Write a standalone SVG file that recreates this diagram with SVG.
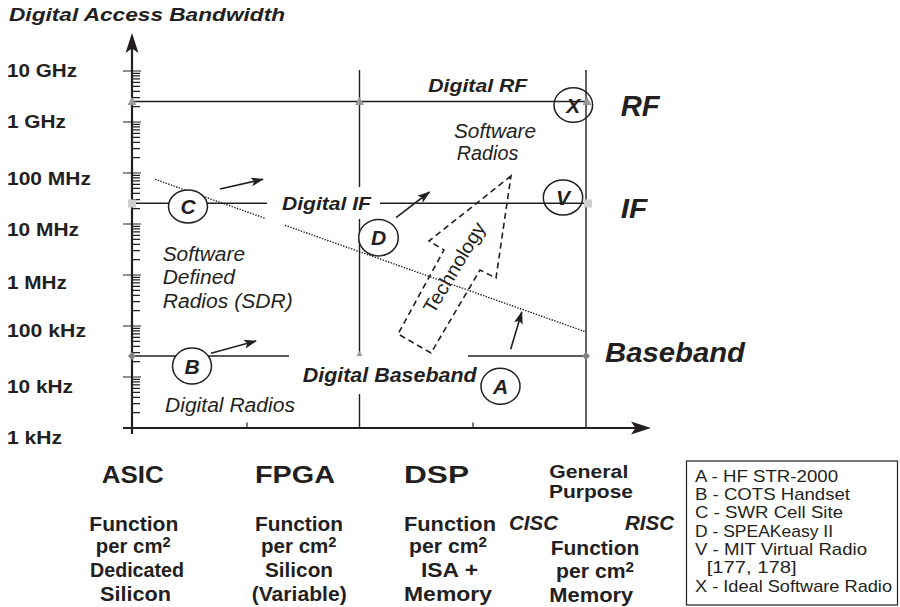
<svg xmlns="http://www.w3.org/2000/svg" width="900" height="607" viewBox="0 0 900 607">
<defs>
<style>
text{font-family:"Liberation Sans",Arial,Helvetica,sans-serif;fill:#231f20}
.b{font-weight:bold}
.bi{font-weight:bold;font-style:italic}
.i{font-style:italic}
.r{font-weight:normal}
.sup{font-size:14px}
.ln{stroke:#231f20;stroke-width:1.4;fill:none}
.ax{stroke:#231f20;stroke-width:2.2;fill:none}
.tk{stroke:#231f20;stroke-width:1.2;fill:none}
.dot{stroke:#231f20;stroke-width:1.4;stroke-dasharray:1.4 1.4;fill:none}
.dash{stroke:#231f20;stroke-width:1.6;stroke-dasharray:6 4;fill:none}
.circ{stroke:#231f20;stroke-width:1.5;fill:#fff}
.circn{stroke:#231f20;stroke-width:1.5;fill:none}
.arr{stroke:#231f20;stroke-width:1.6;fill:none;marker-end:url(#ah)}
.ltr{font-weight:bold;font-style:italic;font-size:21px;text-anchor:middle}
.g1{fill:#9a9a9a}
.g2{fill:#cfcfcf}
.g3{fill:#808080}
</style>
<marker id="ah" markerUnits="userSpaceOnUse" markerWidth="14" markerHeight="10" refX="12" refY="4.5" orient="auto">
<path d="M0,0 L13,4.5 L0,9 L3,4.5 z" fill="#231f20"/>
</marker>
</defs>
<rect width="900" height="607" fill="#fff"/>

<!-- axes -->
<g id="axes">
<line class="ax" x1="132" y1="434" x2="132" y2="46"/>
<path d="M132,33 L138.5,53 L132,48.5 L125.5,53 z" fill="#231f20"/>
<line class="ax" x1="123" y1="428" x2="638" y2="428"/>
<path d="M651,428 L631,434.5 L635.5,428 L631,421.5 z" fill="#231f20"/>
<path class="tk" stroke-width="1.6" d="M123,71H141M123,122H141M123,173H141M123,224H141M123,275H141M123,326H141M123,377H141"/>
<path class="tk" d="M132,412.6H140M132,403.7H140M132,397.3H140M132,392.3H140M132,388.3H140M132,384.9H140M132,381.9H140M132,379.3H140
M132,361.6H140M132,352.7H140M132,346.3H140M132,341.3H140M132,337.3H140M132,333.9H140M132,330.9H140M132,328.3H140
M132,310.6H140M132,301.7H140M132,295.3H140M132,290.3H140M132,286.3H140M132,282.9H140M132,279.9H140M132,277.3H140
M132,259.6H140M132,250.7H140M132,244.3H140M132,239.3H140M132,235.3H140M132,231.9H140M132,228.9H140M132,226.3H140
M132,208.6H140M132,199.7H140M132,193.3H140M132,188.3H140M132,184.3H140M132,180.9H140M132,177.9H140M132,175.3H140
M132,157.6H140M132,148.7H140M132,142.3H140M132,137.3H140M132,133.3H140M132,129.9H140M132,126.9H140M132,124.3H140
M132,106.6H140M132,97.7H140M132,91.3H140M132,86.3H140M132,82.3H140M132,78.9H140M132,75.9H140M132,73.3H140"/>
<path class="tk" stroke-width="1.4" d="M247,428V422.5M473,428V422.5"/>
</g>

<!-- connectors -->
<g id="connectors">
<line class="ln" x1="132" y1="101.5" x2="587" y2="101.5"/>
<line class="ln" x1="132" y1="203.3" x2="267" y2="203.3"/>
<line class="ln" x1="380" y1="203.3" x2="588" y2="203.3"/>
<line class="ln" x1="132" y1="356" x2="289" y2="356"/>
<line class="ln" x1="468" y1="356" x2="586" y2="356"/>
<line class="ln" x1="359.5" y1="70" x2="359.5" y2="187"/>
<line class="ln" x1="359.5" y1="219" x2="359.5" y2="354"/>
<line class="ln" x1="359.5" y1="394" x2="359.5" y2="428"/>
<line class="ln" x1="586" y1="70" x2="586" y2="428"/>
<line class="dot" x1="155" y1="179.3" x2="266" y2="218.6"/>
<line class="dot" x1="285" y1="225.3" x2="585" y2="331.6"/>
<path class="dash" d="M511,176 L429,241 L444,250 L398,334 L431,353 L480,270 L496,278 Z"/>
<line class="arr" x1="220" y1="189" x2="263" y2="179.3"/>
<line class="arr" x1="211" y1="353.3" x2="256" y2="341"/>
<line class="arr" x1="396" y1="217.7" x2="429.5" y2="192"/>
<line class="arr" x1="510.7" y1="349.3" x2="521.8" y2="312"/>
<path class="g1" d="M127.5,105 L136.5,105 L132,97 z"/>
<path class="g1" d="M355,105 L364,105 L359.5,97 z"/>
<path class="g1" d="M582.5,105 L591.5,105 L587,97 z"/>
<rect class="g2" x="128" y="199.5" width="8" height="8"/>
<rect class="g2" x="584" y="199.5" width="8" height="8"/>
<path class="g3" d="M132,352 L136,356 L132,360 L128,356 z"/>
<path class="g3" d="M586,352 L590,356 L586,360 L582,356 z"/>
<path class="g1" d="M356.5,356 L362.5,356 L359.5,351 z"/>
</g>

<!-- nodes -->
<g id="node-C"><ellipse class="circ" cx="188" cy="206.5" rx="19.5" ry="16.5"/><text class="ltr" x="188" y="214">C</text></g>
<g id="node-B"><ellipse class="circ" cx="192" cy="366" rx="19.5" ry="18"/><text class="ltr" x="192" y="373.5">B</text></g>
<g id="node-D"><ellipse class="circ" cx="378.5" cy="237.7" rx="19.8" ry="18.3"/><text class="ltr" x="378.5" y="245.2">D</text></g>
<g id="node-A"><ellipse class="circ" cx="500.5" cy="386.3" rx="19.5" ry="18"/><text class="ltr" x="500.5" y="393.8">A</text></g>
<g id="node-V"><ellipse class="circn" cx="563" cy="197.5" rx="19.7" ry="17.5"/><text class="ltr" x="563" y="205">V</text></g>
<g id="node-X"><ellipse class="circn" cx="573.3" cy="105" rx="19.3" ry="17.3"/><text class="ltr" x="573.3" y="112.5">X</text></g>

<!-- labels -->
<g id="labels">
<text class="bi" x="9" y="21" font-size="18.5" textLength="276" lengthAdjust="spacingAndGlyphs">Digital Access Bandwidth</text>
<g class="b" font-size="19">
<text x="7" y="77" textLength="70" lengthAdjust="spacingAndGlyphs">10 GHz</text>
<text x="7" y="128" textLength="59" lengthAdjust="spacingAndGlyphs">1 GHz</text>
<text x="7" y="185" textLength="84" lengthAdjust="spacingAndGlyphs">100 MHz</text>
<text x="7" y="236" textLength="72" lengthAdjust="spacingAndGlyphs">10 MHz</text>
<text x="7" y="289" textLength="60" lengthAdjust="spacingAndGlyphs">1 MHz</text>
<text x="7" y="337" textLength="79" lengthAdjust="spacingAndGlyphs">100 kHz</text>
<text x="7" y="393" textLength="66" lengthAdjust="spacingAndGlyphs">10 kHz</text>
<text x="7" y="444" textLength="55" lengthAdjust="spacingAndGlyphs">1 kHz</text>
</g>
<text class="bi" x="428.3" y="91.7" font-size="19" textLength="99" lengthAdjust="spacingAndGlyphs">Digital RF</text>
<text class="bi" x="282" y="210" font-size="19" textLength="89" lengthAdjust="spacingAndGlyphs">Digital IF</text>
<text class="bi" x="302.7" y="382.3" font-size="19.5" textLength="174" lengthAdjust="spacingAndGlyphs">Digital Baseband</text>
<text class="bi" x="620.7" y="116" font-size="29" textLength="39" lengthAdjust="spacingAndGlyphs">RF</text>
<text class="bi" x="620.7" y="218.3" font-size="28" textLength="26.6" lengthAdjust="spacingAndGlyphs">IF</text>
<text class="bi" x="605" y="361.7" font-size="28" textLength="140" lengthAdjust="spacingAndGlyphs">Baseband</text>
<g class="i" font-size="19.5">
<text x="454" y="138.3" textLength="82" lengthAdjust="spacingAndGlyphs">Software</text>
<text x="456.7" y="160" textLength="61.6" lengthAdjust="spacingAndGlyphs">Radios</text>
<text x="162.7" y="260.7" textLength="82.3" lengthAdjust="spacingAndGlyphs">Software</text>
<text x="162.7" y="284.3" textLength="72.3" lengthAdjust="spacingAndGlyphs">Defined</text>
<text x="162.7" y="307.7" textLength="130" lengthAdjust="spacingAndGlyphs">Radios (SDR)</text>
<text x="165" y="411.7" textLength="130" lengthAdjust="spacingAndGlyphs">Digital Radios</text>
</g>
<text x="460" y="271" font-size="19.5" text-anchor="middle" transform="rotate(-59 460 271)" textLength="102" lengthAdjust="spacingAndGlyphs">Technology</text>
</g>

<!-- x-axis categories -->
<g id="categories" class="b">
<text x="101.7" y="483.3" font-size="23" textLength="62" lengthAdjust="spacingAndGlyphs">ASIC</text>
<text x="255" y="483.3" font-size="23" textLength="80" lengthAdjust="spacingAndGlyphs">FPGA</text>
<text x="404" y="483.3" font-size="23" textLength="65" lengthAdjust="spacingAndGlyphs">DSP</text>
<g font-size="19.5">
<text x="89.3" y="531" textLength="89" lengthAdjust="spacingAndGlyphs">Function</text>
<text x="95.7" y="553" textLength="75" lengthAdjust="spacingAndGlyphs">per cm<tspan class="sup" dy="-6">2</tspan></text>
<text x="90" y="577" textLength="94" lengthAdjust="spacingAndGlyphs">Dedicated</text>
<text x="100" y="601" textLength="71" lengthAdjust="spacingAndGlyphs">Silicon</text>

<text x="255" y="531" textLength="88" lengthAdjust="spacingAndGlyphs">Function</text>
<text x="261" y="553" textLength="75.5" lengthAdjust="spacingAndGlyphs">per cm<tspan class="sup" dy="-6">2</tspan></text>
<text x="265" y="577" textLength="68" lengthAdjust="spacingAndGlyphs">Silicon</text>
<text x="251.7" y="601" textLength="95" lengthAdjust="spacingAndGlyphs">(Variable)</text>

<text x="404" y="531" textLength="92" lengthAdjust="spacingAndGlyphs">Function</text>
<text x="409" y="553" textLength="78" lengthAdjust="spacingAndGlyphs">per cm<tspan class="sup" dy="-6">2</tspan></text>
<text x="421" y="577" textLength="57" lengthAdjust="spacingAndGlyphs">ISA +</text>
<text x="404" y="601" textLength="88" lengthAdjust="spacingAndGlyphs">Memory</text>

<text x="549.3" y="478" font-size="17.5" textLength="79" lengthAdjust="spacingAndGlyphs">General</text>
<text x="549" y="498" font-size="17.5" textLength="84" lengthAdjust="spacingAndGlyphs">Purpose</text>
<text class="bi" x="509" y="530" textLength="49" lengthAdjust="spacingAndGlyphs">CISC</text>
<text class="bi" x="625" y="530" textLength="49" lengthAdjust="spacingAndGlyphs">RISC</text>
<text x="550.7" y="555" textLength="88.6" lengthAdjust="spacingAndGlyphs">Function</text>
<text x="556" y="578" textLength="78" lengthAdjust="spacingAndGlyphs">per cm<tspan class="sup" dy="-6">2</tspan></text>
<text x="549.3" y="601.7" textLength="84" lengthAdjust="spacingAndGlyphs">Memory</text>
</g>
</g>

<!-- legend -->
<g id="legend">
<rect x="686.5" y="461" width="211" height="144" fill="none" stroke="#231f20" stroke-width="1.2"/>
<g class="r" font-size="17">
<text x="695" y="481.7" textLength="143" lengthAdjust="spacingAndGlyphs">A - HF STR-2000</text>
<text x="695" y="500" textLength="155" lengthAdjust="spacingAndGlyphs">B - COTS Handset</text>
<text x="695" y="518.3" textLength="148" lengthAdjust="spacingAndGlyphs">C - SWR Cell Site</text>
<text x="695" y="536.7" textLength="138" lengthAdjust="spacingAndGlyphs">D - SPEAKeasy II</text>
<text x="695" y="555" textLength="172" lengthAdjust="spacingAndGlyphs">V - MIT Virtual Radio</text>
<text x="706.7" y="573.3" textLength="90" lengthAdjust="spacingAndGlyphs">[177, 178]</text>
<text x="695" y="592" textLength="197" lengthAdjust="spacingAndGlyphs">X - Ideal Software Radio</text>
</g>
</g>
</svg>
